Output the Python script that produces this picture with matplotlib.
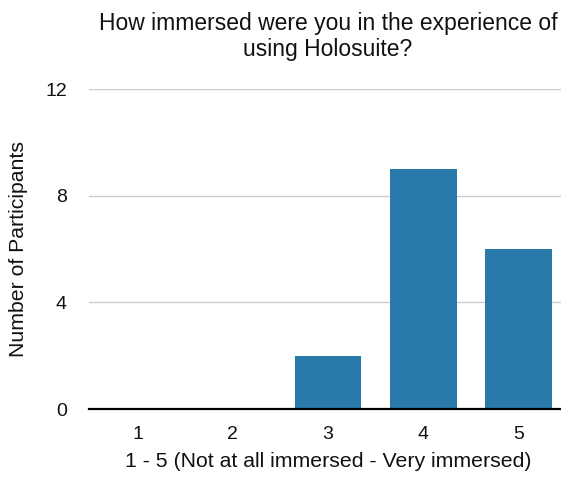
import matplotlib
matplotlib.use("Agg")
import matplotlib.pyplot as plt

plt.rcParams['font.family'] = ['Liberation Sans', 'DejaVu Sans']

categories = ["1", "2", "3", "4", "5"]
participants = [0, 0, 2, 9, 6]
y_ticks = [0, 4, 8, 12]

title = "How immersed were you in the experience of\nusing Holosuite?"
x_label = "1 - 5 (Not at all immersed - Very immersed)"
y_label = "Number of Participants"

fig = plt.figure(figsize=(5.61, 4.82), dpi=100)
ax = fig.add_axes([89 / 561, 73 / 482, 478 / 561, 320 / 482])

positions = list(range(1, len(categories) + 1))
ax.bar(positions, participants, width=0.70, color="#2979aa", zorder=2)

ax.set_xlim(0.49, 5.51)
ax.set_ylim(0, 12)
ax.set_xticks(positions)
ax.set_xticklabels(categories)
ax.set_yticks(y_ticks)

ax.grid(axis="y", color="#cccccc", linewidth=1.0, zorder=0)
ax.axhline(0, color="black", linewidth=1.6, zorder=3, clip_on=False)

for side in ("top", "right", "left", "bottom"):
    ax.spines[side].set_visible(False)
ax.tick_params(axis="both", length=0, labelsize=14, colors="#111111")
ax.tick_params(axis="x", pad=12)
ax.tick_params(axis="y", pad=16)

ax.set_xlabel(x_label, fontsize=15.3, color="#111111", labelpad=7)
ax.set_ylabel(y_label, fontsize=15.3, color="#111111", labelpad=12)
fig.text(328 / 561, 1 - 12 / 482, title, ha="center", va="top",
         fontsize=16.5, color="#111111", linespacing=1.15)

fig.savefig("out.png", dpi=100)
